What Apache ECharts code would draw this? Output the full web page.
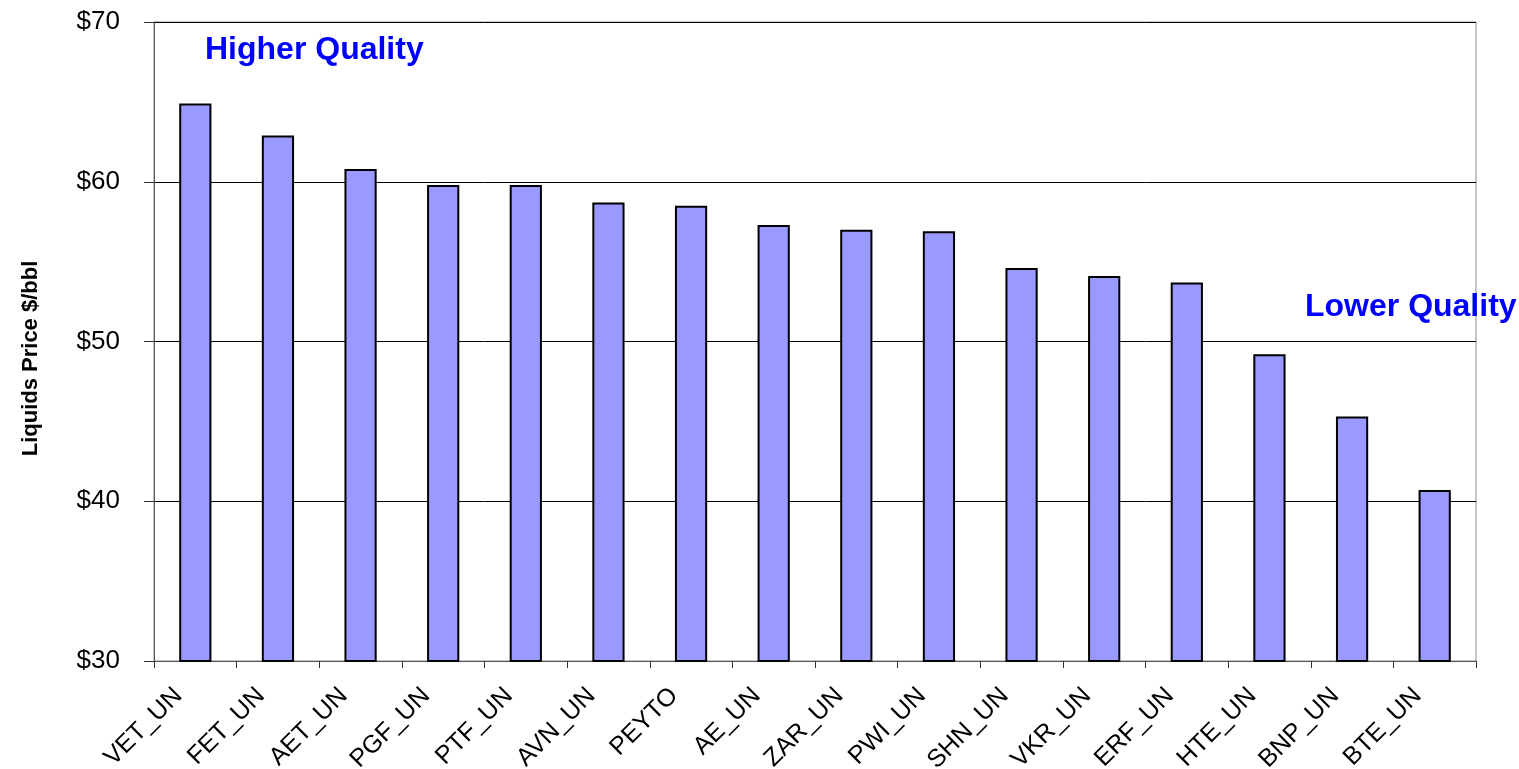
<!DOCTYPE html>
<html>
<head>
<meta charset="utf-8">
<script src="https://cdn.jsdelivr.net/npm/echarts@6/dist/echarts.min.js"></script>
<style>
  html, body { margin: 0; padding: 0; background: #fff; }
  #chart { width: 1519px; height: 769px; }
</style>
</head>
<body>
<div id="chart"></div>
<script>
// data
const companies = ['VET_UN', 'FET_UN', 'AET_UN', 'PGF_UN', 'PTF_UN', 'AVN_UN', 'PEYTO', 'AE_UN',
  'ZAR_UN', 'PWI_UN', 'SHN_UN', 'VKR_UN', 'ERF_UN', 'HTE_UN', 'BNP_UN', 'BTE_UN'];
const liquidsPrice = [64.9, 62.9, 60.8, 59.8, 59.8, 58.7, 58.5, 57.3,
  57.0, 56.9, 54.6, 54.1, 53.7, 49.2, 45.3, 40.7];
const yTicks = [30, 40, 50, 60, 70];

const chart = echarts.init(document.getElementById('chart'));

const option = {
  animation: false,
  textStyle: { fontFamily: 'Liberation Sans, Arial, sans-serif' },
  grid: {
    left: 154, top: 22, right: 43, bottom: 108,
    outerBoundsMode: 'none',
    containLabel: false,
    show: true, borderColor: '#8c8c8c', borderWidth: 1
  },
  xAxis: {
    type: 'category',
    data: companies,
    axisLine: { lineStyle: { color: '#555', width: 1 } },
    axisTick: { show: true, length: 7, lineStyle: { color: '#333' } },
    axisLabel: {
      rotate: 45, color: '#000', fontSize: 25, margin: 14,
      padding: [0, 24, 0, 0],
      fontFamily: 'Liberation Sans, Arial, sans-serif'
    }
  },
  yAxis: {
    type: 'value',
    min: yTicks[0],
    max: yTicks[yTicks.length - 1],
    interval: 10,
    name: 'Liquids Price $/bbl',
    nameLocation: 'middle',
    nameGap: 112,
    nameTextStyle: { fontSize: 22, fontWeight: 'bold', color: '#000', padding: [0, 34, 0, 0] },
    axisLine: { show: true, lineStyle: { color: '#555' } },
    axisTick: { show: true, length: 10, lineStyle: { color: '#333' } },
    axisLabel: {
      color: '#000', fontSize: 26, margin: 34,
      formatter: v => '$' + v
    },
    splitLine: { lineStyle: { color: '#000', width: 1 } }
  },
  series: [{
    type: 'bar',
    data: liquidsPrice,
    barWidth: '39%',
    itemStyle: { color: '#9999ff', borderColor: '#000', borderWidth: 2 }
  }],
  graphic: [
    {
      type: 'text', left: 205, top: 34,
      style: { text: 'Higher Quality', fill: '#0000ff', font: 'bold 32px "Liberation Sans", Arial, sans-serif' }
    },
    {
      type: 'text', left: 1305, top: 291,
      style: { text: 'Lower Quality', fill: '#0000ff', font: 'bold 32px "Liberation Sans", Arial, sans-serif' }
    }
  ]
};

chart.setOption(option);
</script>
</body>
</html>
